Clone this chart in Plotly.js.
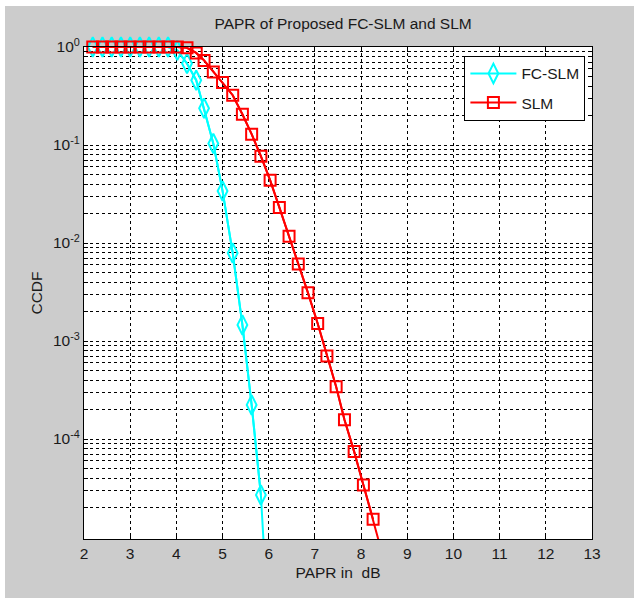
<!DOCTYPE html>
<html>
<head>
<meta charset="utf-8">
<script src="https://cdn.plot.ly/plotly-3.0.1.min.js"></script>
<style>
  html, body { margin: 0; padding: 0; background: #ffffff; }
  #chart { position: absolute; left: 5px; top: 6px; width: 629px; height: 592px; }
</style>
</head>
<body>
<div id="chart"></div>
<script>
// PAPR thresholds (dB)
const paprDB = [2.19, 2.40, 2.60, 2.80, 3.00, 3.21, 3.41, 3.62, 3.82, 4.02, 4.23, 4.43, 4.60, 4.80, 5.00, 5.22, 5.43, 5.63, 5.83, 6.03, 6.23, 6.44, 6.64, 6.85, 7.06, 7.26, 7.46, 7.64, 7.85, 8.05, 8.26, 8.46];
// CCDF values
const ccdfFCSLM = [1, 1, 1, 1, 1, 1, 1, 1, 1, 0.925, 0.68, 0.458, 0.237, 0.1035, 0.034, 0.0079, 0.00146, 0.000223, 2.69e-5, 6e-7];
const ccdfSLM = [1, 1, 1, 1, 1, 1, 1, 1, 1, 0.999, 0.98, 0.87, 0.73, 0.556, 0.434, 0.322, 0.206, 0.129, 0.0769, 0.0438, 0.0231, 0.01175, 0.0061, 0.0031, 0.00151, 0.000703, 0.000342, 0.000157, 7.44e-5, 3.40e-5, 1.52e-5, 6.7e-6];
const seriesNames = ['FC-SLM', 'SLM'];
const xTickVals = [2, 3, 4, 5, 6, 7, 8, 9, 10, 11, 12, 13];
const yDecadeExps = [0, -1, -2, -3, -4];

const FONT = '"Liberation Sans", Arial, sans-serif';
const FS = 15.5;
const yMin = 1e-5;

// y ticks: decades labelled; minor 2..9 as minor ticks/grid
const yTickVals = yDecadeExps.map(e => Math.pow(10, e));
const yTickText = yDecadeExps.map(e => '10<sup>' + e + '</sup>');
const yMinorVals = [];
for (let e = 0; e >= -5; e--) {
  for (let m = 2; m <= 9; m++) {
    const v = m * Math.pow(10, e);
    if (v > 1 || v < yMin) continue;
    yMinorVals.push(v);
  }
}

function inRange(xs, ys) {
  const ox = [], oy = [];
  for (let i = 0; i < ys.length; i++) {
    if (ys[i] >= yMin) { ox.push(xs[i]); oy.push(ys[i]); }
  }
  return [ox, oy];
}

const styles = [
  {color: '#00ffff', symbol: 'diamond-tall-open', size: 14},
  {color: '#ff0000', symbol: 'square-open', size: 11}
];
const allY = [ccdfFCSLM, ccdfSLM];
const traces = [];
for (let s = 0; s < 2; s++) {
  const xs = paprDB.slice(0, allY[s].length);
  traces.push({
    x: xs, y: allY[s], mode: 'lines', type: 'scatter',
    line: {color: styles[s].color, width: 2},
    showlegend: false, legendgroup: seriesNames[s], hoverinfo: 'skip'
  });
  const r = inRange(xs, allY[s]);
  traces.push({
    x: r[0], y: r[1], mode: 'lines+markers', type: 'scatter', name: seriesNames[s],
    legendgroup: seriesNames[s], cliponaxis: false,
    line: {color: styles[s].color, width: 2},
    marker: {symbol: styles[s].symbol, size: styles[s].size, color: styles[s].color,
             line: {color: styles[s].color, width: 2}}
  });
}

const gridStyle = {gridcolor: '#000', gridwidth: 1, griddash: '3px,3px'};

const layout = {
  width: 629, height: 592,
  paper_bgcolor: '#cccccc', plot_bgcolor: '#ffffff',
  margin: {l: 79, r: 42, t: 41, b: 59},
  font: {family: FONT, size: FS, color: '#1a1a1a'},
  title: {text: 'PAPR of Proposed FC-SLM and SLM', font: {family: FONT, size: 15.5, color: '#1a1a1a'},
          x: 0.5375, xanchor: 'center', y: 0.970, yanchor: 'middle', yref: 'container'},
  xaxis: Object.assign({
    range: [2, 13], tickvals: xTickVals, ticktext: xTickVals.map(String),
    ticks: 'inside', ticklen: 5, tickcolor: '#000', mirror: 'ticks',
    showline: true, linecolor: '#000', linewidth: 1,
    showgrid: true,
    zeroline: false, tickfont: {family: FONT, size: FS},
    title: {text: 'PAPR in\u00a0 dB', font: {family: FONT, size: FS}, standoff: 6}
  }, gridStyle),
  yaxis: Object.assign({
    type: 'log', range: [Math.log10(yMin) - 0.02, 0],
    tickvals: yTickVals, ticktext: yTickText,
    ticks: 'inside', ticklen: 4, tickcolor: '#000', mirror: 'ticks',
    showline: true, linecolor: '#000', linewidth: 1,
    showgrid: true,
    minor: Object.assign({tickmode: 'array', tickvals: yMinorVals, ticks: 'inside', ticklen: 4,
                          tickcolor: '#000', showgrid: true}, gridStyle),
    zeroline: false, tickfont: {family: FONT, size: FS},
    title: {text: 'CCDF', font: {family: FONT, size: FS}, standoff: 6}
  }, gridStyle),
  legend: {
    x: 0.987, xanchor: 'right', y: 0.982, yanchor: 'top',
    bgcolor: '#ffffff', bordercolor: '#000', borderwidth: 1,
    itemwidth: 46, tracegroupgap: 6,
    font: {family: FONT, size: FS, color: '#1a1a1a'}
  },
  showlegend: true
};

Plotly.newPlot('chart', traces, layout, {displayModeBar: false, staticPlot: true});
</script>
</body>
</html>
